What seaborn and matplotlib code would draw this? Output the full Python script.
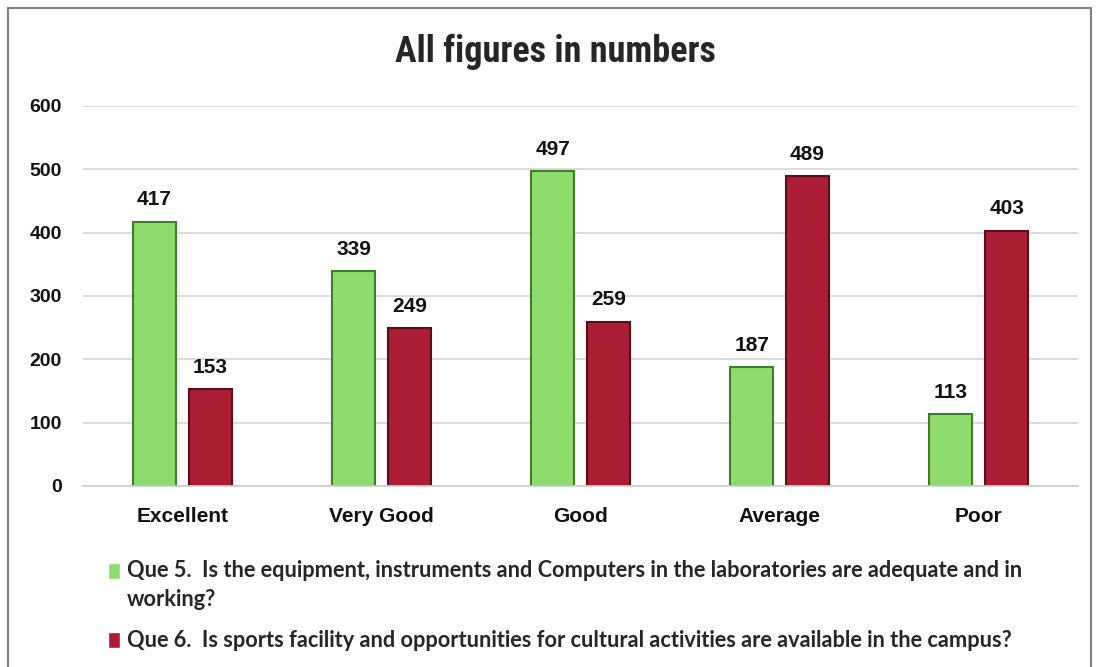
import pandas as pd
import seaborn as sns
import matplotlib.pyplot as plt
from matplotlib.patches import Rectangle

categories = ['Excellent', 'Very Good', 'Good', 'Average', 'Poor']
que5 = [417, 339, 497, 187, 113]
que6 = [153, 249, 259, 489, 403]
series = ['Que 5.  Is the equipment, instruments and Computers in the laboratories are adequate and in\nworking?',
          'Que 6.  Is sports facility and opportunities for cultural activities are available in the campus?']

df = pd.DataFrame({'rating': categories * 2,
                   'count': que5 + que6,
                   'question': [series[0]] * 5 + [series[1]] * 5})

sns.set_style('white')
plt.rcParams['font.family'] = ['Liberation Sans', 'DejaVu Sans']

fig = plt.figure(figsize=(10.99, 6.67), dpi=100)
ax = fig.add_axes([0.0752, 0.2714, 0.906, 0.570])

colors = {series[0]: '#8fdc6e', series[1]: '#ab1d35'}
edges = {series[0]: '#3f7d2a', series[1]: '#5a0c18'}

sns.barplot(data=df, x='rating', y='count', hue='question', order=categories,
            hue_order=series, palette=colors, saturation=1, width=0.56, gap=0.23,
            ax=ax, legend=True)

for cont, s in zip(ax.containers, series):
    for bar in cont:
        bar.set_edgecolor(edges[s])
        bar.set_linewidth(1.5)
    ax.bar_label(cont, padding=9, fontsize=15, fontweight='bold', color='#111111')

ax.set_ylim(0, 600)
ax.set_yticks(range(0, 601, 100))
ax.yaxis.grid(True, color='#d9d9d9', linewidth=1.3)
ax.set_axisbelow(True)
sns.despine(ax=ax, left=True)
ax.spines['bottom'].set_color('#d0d0d0')
ax.spines['bottom'].set_linewidth(1.3)
ax.set_xlabel('')
ax.set_ylabel('')
ax.tick_params(axis='y', length=0, pad=15, labelsize=14)
ax.tick_params(axis='x', length=0, pad=15, labelsize=15)
for t in ax.get_xticklabels() + ax.get_yticklabels():
    t.set_fontweight('bold')
    t.set_color('#111111')

fig.text(0.505, 0.922, 'All figures in numbers', ha='center', va='center',
         fontsize=26, fontweight='bold', family=['Roboto Condensed', 'Lato', 'DejaVu Sans'])

handles, labels = ax.get_legend_handles_labels()
ax.get_legend().remove()
leg = fig.legend(handles, labels, loc='upper left', bbox_to_anchor=(0.090, 0.174),
                 frameon=False, handlelength=0.55, handleheight=0.75, handletextpad=0.35,
                 labelspacing=0.92, borderaxespad=0,
                 prop={'weight': 'bold', 'size': 15.7, 'family': ['Lato', 'DejaVu Sans']})
for t in leg.get_texts():
    t.set_linespacing(1.5)
# first marker sits beside the first line of its wrapped label
h0 = leg.legend_handles[0]
h0.set_y(h0.get_y() + 10.5)

fig.patches.append(Rectangle((0.007, -0.01), 0.986, 0.998, transform=fig.transFigure,
                             fill=False, edgecolor='#7f7f7f', linewidth=1.5))

fig.savefig('out.png', dpi=100)
